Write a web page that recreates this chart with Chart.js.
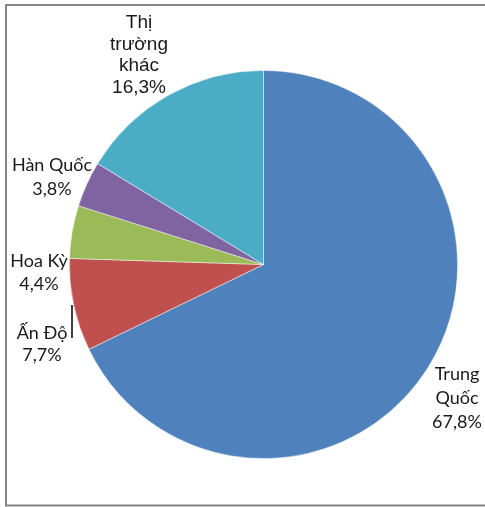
<!DOCTYPE html>
<html>
<head>
<meta charset="utf-8">
<script src="https://cdn.jsdelivr.net/npm/chart.js@4.4.1/dist/chart.umd.min.js"></script>
<style>
  html, body { margin: 0; padding: 0; background: #ffffff; }
  #wrap { width: 485px; height: 507px; position: relative; }
</style>
</head>
<body>
<div id="wrap"><canvas id="c" width="485" height="507"></canvas></div>
<script>
const categories = ["Trung Quốc", "Ấn Độ", "Hoa Kỳ", "Hàn Quốc", "Thị trường khác"];
const values = [67.8, 7.7, 4.4, 3.8, 16.3];
const labelLines = [
  ["Trung", "Quốc", "67,8%"],
  ["Ấn Độ", "7,7%"],
  ["Hoa Kỳ", "4,4%"],
  ["Hàn Quốc", "3,8%"],
  ["Thị", "trường", "khác", "16,3%"]
];
const colors = ["#4F81BD", "#C0504D", "#9BBB59", "#8064A2", "#4BACC6"];

// label layout (page coordinates of first-line centre, line height, font)
const labelLayout = [
  { x: 457, y: 374, lh: 24, font: "18px Lato" },
  { x: 42,  y: 333, lh: 22, font: "18px Lato" },
  { x: 39,  y: 261, lh: 23, font: "18px Lato" },
  { x: 52,  y: 165, lh: 24, font: "18px Lato" },
  { x: 139, y: 23,  lh: 21.5, font: "19px 'Liberation Sans', Arial" }
];

const decorPlugin = {
  id: 'decor',
  afterDraw(chart) {
    const ctx = chart.ctx;
    ctx.save();
    // frame
    ctx.strokeStyle = "#868686";
    ctx.lineWidth = 2;
    ctx.beginPath();
    ctx.moveTo(490, 5);
    ctx.lineTo(6, 5);
    ctx.lineTo(6, 505.5);
    ctx.lineTo(490, 505.5);
    ctx.stroke();
    // leader line for Ấn Độ
    ctx.strokeStyle = "#000000";
    ctx.lineWidth = 1.5;
    ctx.beginPath();
    ctx.moveTo(72, 305);
    ctx.lineTo(72, 338);
    ctx.stroke();
    // labels
    ctx.fillStyle = "#1a1a1a";
    ctx.textAlign = "center";
    ctx.textBaseline = "middle";
    labelLines.forEach((lines, i) => {
      const L = labelLayout[i];
      ctx.font = L.font;
      lines.forEach((t, j) => ctx.fillText(t, L.x, L.y + j * L.lh));
    });
    ctx.restore();
  }
};

new Chart(document.getElementById('c'), {
  type: 'pie',
  data: {
    labels: categories,
    datasets: [{
      data: values,
      backgroundColor: colors,
      borderColor: "rgba(255,255,255,0.6)",
      borderWidth: 0.8
    }]
  },
  options: {
    responsive: false,
    devicePixelRatio: 1,
    animation: false,
    rotation: 0,
    layout: { padding: { left: 68.5, right: 26.5, top: 70, bottom: 48 } },
    plugins: {
      legend: { display: false },
      tooltip: { enabled: false },
      title: { display: false }
    }
  },
  plugins: [decorPlugin]
});
</script>
</body>
</html>
